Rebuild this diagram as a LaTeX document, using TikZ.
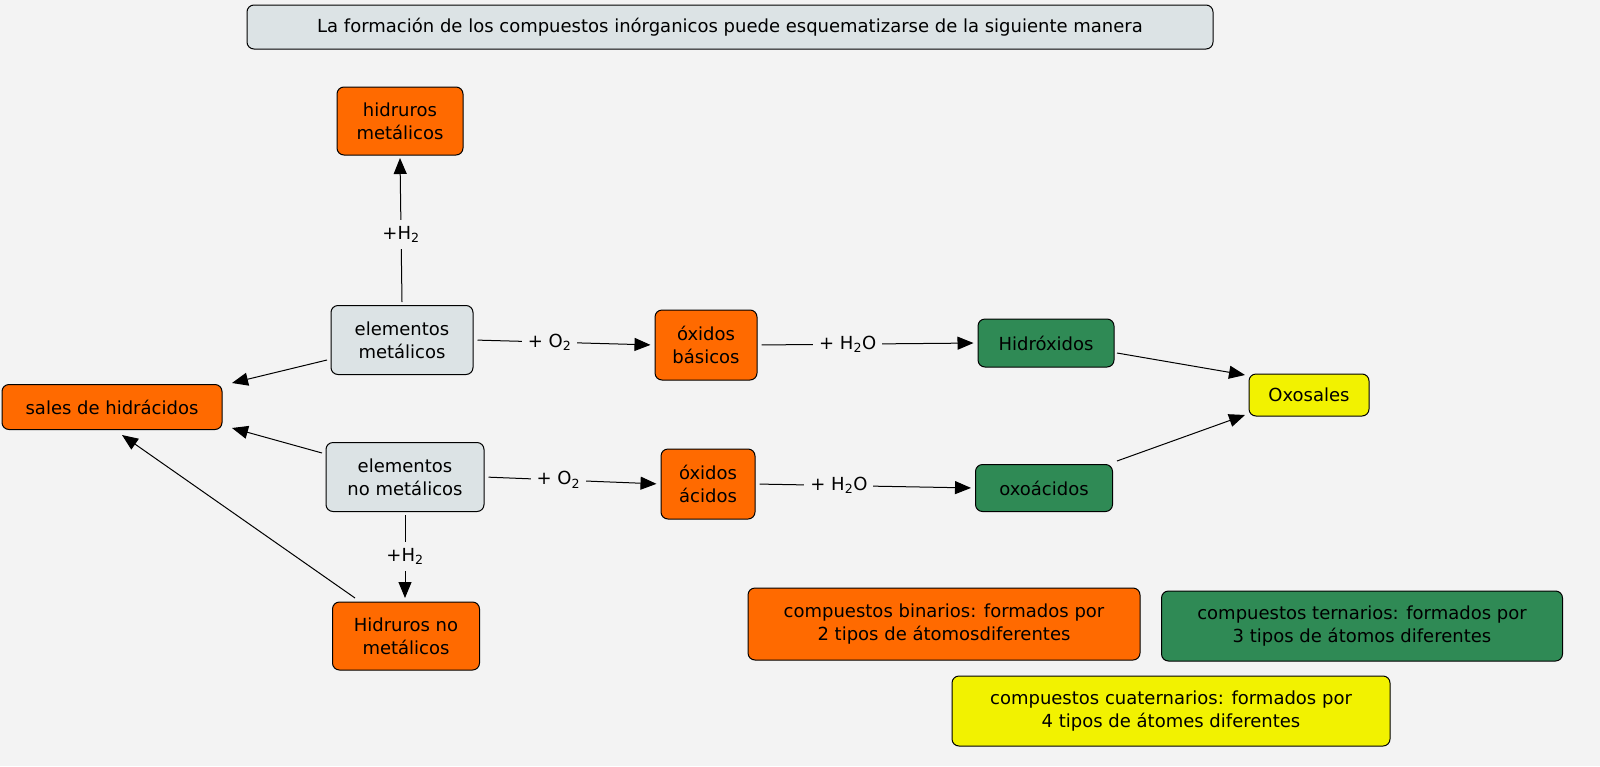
\documentclass[tikz,border=0pt]{standalone}
\usepackage{fontspec}
\setmainfont{DejaVu Sans}
\usetikzlibrary{arrows.meta}
\definecolor{bgc}{HTML}{F3F3F3}
\definecolor{org}{HTML}{FF6A00}
\definecolor{grn}{HTML}{2F8A55}
\definecolor{yel}{HTML}{F2F200}
\definecolor{gry}{HTML}{DCE3E5}
\begin{document}
\begin{tikzpicture}[x=1pt,y=-1pt,
 box/.style={draw=black,line width=1pt,rounded corners=7pt,align=center,font=\fontsize{18}{23}\selectfont,inner sep=0pt},
 bo/.style={box,fill=org},
 bgr/.style={box,fill=grn},
 by/.style={box,fill=yel},
 be/.style={box,fill=gry},
 ar/.style={line width=1pt,-{Triangle[length=16pt,width=13pt]}},
 lb/.style={fill=bgc,font=\fontsize{18}{23}\selectfont,inner sep=6pt}]
\fill[bgc] (0,0) rectangle (1600,766);
\useasboundingbox (0,0) rectangle (1600,766);
\node[be,minimum width=966pt,minimum height=44pt] (t) at (730,27) {La formación de los compuestos inórganicos puede esquematizarse de la siguiente manera};
\node[bo,minimum width=126pt,minimum height=68pt] (hm) at (400,121) {hidruros\\metálicos};
\node[be,minimum width=142pt,minimum height=69pt] (em) at (402,340) {elementos\\metálicos};
\node[bo,minimum width=220pt,minimum height=45pt] (sh) at (112,407) {sales de hidrácidos};
\node[be,minimum width=158pt,minimum height=69pt] (en) at (405,477) {elementos\\no metálicos};
\node[bo,minimum width=147pt,minimum height=68pt] (hn) at (406,636) {Hidruros no\\metálicos};
\node[bo,minimum width=102pt,minimum height=70pt] (ob) at (706,345) {óxidos\\básicos};
\node[bo,minimum width=94pt,minimum height=70pt] (oa) at (708,484) {óxidos\\ácidos};
\node[bgr,minimum width=136pt,minimum height=48pt] (hx) at (1046,343) {Hidróxidos};
\node[bgr,minimum width=137pt,minimum height=47pt] (ox) at (1044,488) {oxoácidos};
\node[by,minimum width=120pt,minimum height=42pt] (os) at (1309,395) {Oxosales};
\node[bo,minimum width=392pt,minimum height=72pt] (b) at (944,624) {compuestos binarios: formados por\\2 tipos de átomosdiferentes};
\node[bgr,minimum width=401pt,minimum height=70pt] (tr) at (1362,626) {compuestos ternarios: formados por\\3 tipos de átomos diferentes};
\node[by,minimum width=438pt,minimum height=70pt] (c) at (1171,711) {compuestos cuaternarios: formados por\\4 tipos de átomes diferentes};
\coordinate (emt) at (402,302);
\coordinate (hmb) at (400,158);
\draw[ar] (emt) -- node[lb,pos=0.47]{+H\textsubscript{2}} (hmb);
\draw[ar,shorten <=4pt,shorten >=4pt] (em.east) -- node[lb,pos=0.42]{+ O\textsubscript{2}} (ob.west);
\draw[ar,shorten <=4pt,shorten >=4pt] (en.east) -- node[lb,pos=0.42]{+ O\textsubscript{2}} (oa.west);
\draw[ar,shorten <=4pt,shorten >=4pt] (ob.east) -- node[lb,pos=0.41]{+ H\textsubscript{2}O} (hx.west);
\draw[ar,shorten <=4pt,shorten >=4pt] (oa.east) -- node[lb,pos=0.38]{+ H\textsubscript{2}O} (ox.west);
\coordinate (a1) at (327,360); \coordinate (a2) at (232,383);
\draw[ar] (a1) -- (a2);
\coordinate (b1) at (322,453); \coordinate (b2) at (232,428);
\draw[ar] (b1) -- (b2);
\coordinate (c1) at (355,598); \coordinate (c2) at (122,435);
\draw[ar] (c1) -- (c2);
\coordinate (d1) at (405,515); \coordinate (d2) at (405,598);
\draw[ar] (d1) -- node[lb]{+H\textsubscript{2}} (d2);
\coordinate (e1) at (1117,353); \coordinate (e2) at (1245,375);
\draw[ar] (e1) -- (e2);
\coordinate (f1) at (1117,461); \coordinate (f2) at (1245,415);
\draw[ar] (f1) -- (f2);
\end{tikzpicture}
\end{document}
